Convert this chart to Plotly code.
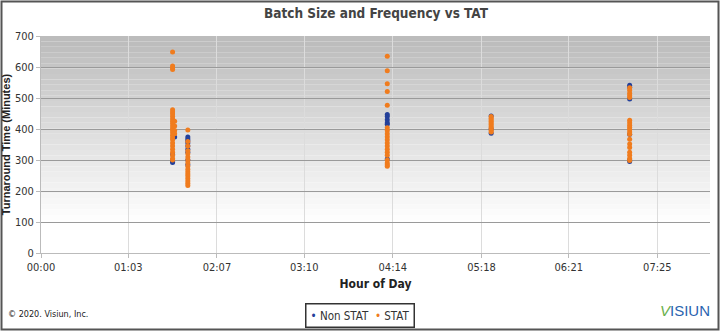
import plotly.graph_objects as go

# ---- data (minutes after midnight, TAT minutes) ----
stat_x = ([95]*25 + [96.5]*4 + [106]*17 + [250]*19 + [325]*11 + [425]*19)
stat_y = ([648, 603, 597, 592, 462, 455, 448, 440, 432, 425, 418, 410, 402, 395, 388, 380, 372, 365, 355, 345, 335, 325, 315, 305, 300]
          + [425, 410, 395, 385]
          + [397, 360, 345, 330, 320, 310, 300, 290, 280, 270, 262, 255, 248, 240, 232, 225, 218]
          + [635, 588, 546, 521, 477, 404, 395, 385, 375, 365, 355, 345, 335, 325, 315, 300, 290, 285, 280]
          + [440, 435, 430, 425, 420, 415, 410, 405, 400, 395, 390]
          + [533, 525, 515, 508, 502, 428, 420, 412, 405, 398, 390, 383, 367, 352, 340, 325, 315, 305, 298])

nonstat_x = ([96.5, 95, 95, 95, 95] + [106]*9 + [250]*6 + [325]*3 + [425]*6)
nonstat_y = ([374, 318, 300, 295, 292]
             + [374, 368, 362, 355, 345, 335, 325, 300, 285]
             + [447, 440, 430, 420, 415, 303]
             + [442, 400, 386]
             + [541, 535, 497, 383, 300, 295])

series_names = ["Non STAT", "STAT"]
series_colors = ["#24409a", "#f07c1e"]

x_tickvals = [0, 63, 127, 190, 254, 318, 381, 445]
x_ticktext = ["00:00", "01:03", "02:07", "03:10", "04:14", "05:18", "06:21", "07:25"]
y_tickvals = [0, 100, 200, 300, 400, 500, 600, 700]

W, H = 720, 331
ML, MR, MT, MB = 41, 10, 36, 78
pw, ph = W - ML - MR, H - MT - MB

FONT = "DejaVu Sans Condensed, Liberation Sans Narrow, Arial Narrow, Liberation Sans, Arial"

fig = go.Figure()
fig.add_trace(go.Scatter(x=nonstat_x, y=nonstat_y, mode="markers", name=series_names[0],
                         marker=dict(color=series_colors[0], size=5)))
fig.add_trace(go.Scatter(x=stat_x, y=stat_y, mode="markers", name=series_names[1],
                         marker=dict(color=series_colors[1], size=5)))

shapes = []
# gradient background in plot area
N = 40
for i in range(N):
    t = i / N
    f = max(0.0, 1 - t / 0.85)
    c = int(255 - (255 - 188) * f)
    shapes.append(dict(type="rect", xref="paper", yref="paper",
                       x0=0, x1=1, y0=1 - (i + 1) / N, y1=1 - i / N,
                       fillcolor=f"rgb({c},{c},{c})", line=dict(width=0), layer="below"))
# outer border
shapes.append(dict(type="rect", xref="paper", yref="paper",
                   x0=(-ML + 1.5) / pw, x1=1 + (MR - 1.5) / pw,
                   y0=(-MB + 1.5) / ph, y1=1 + (MT - 1.5) / ph,
                   line=dict(color="#555555", width=2), fillcolor="rgba(0,0,0,0)"))

legend_text = "  ".join(
    f"<span style='color:{c}'>•</span> {n}" for n, c in zip(series_names, series_colors))

fig.update_layout(
    width=W, height=H,
    margin=dict(l=ML, r=MR, t=MT, b=MB, autoexpand=False),
    paper_bgcolor="white", plot_bgcolor="rgba(0,0,0,0)",
    font=dict(family=FONT, size=11, color="#333333"),
    title=dict(text="<b>Batch Size and Frequency vs TAT</b>", x=(376 - ML) / pw, xanchor="center",
               xref="paper", y=1 - 13 / H, yanchor="middle",
               font=dict(family=FONT, size=13.5, color="#444444")),
    shapes=shapes,
    showlegend=False,
    annotations=[
        dict(text=legend_text, xref="paper", yref="paper",
             x=(360 - ML) / pw, y=-(315.5 - MT - ph) / ph, xanchor="center", yanchor="middle",
             showarrow=False, bordercolor="#333333", borderwidth=1.5, borderpad=4,
             bgcolor="white", font=dict(family=FONT, size=11.5, color="#333333")),
        dict(text="© 2020. Visiun, Inc.", xref="paper", yref="paper",
             x=(-ML + 6) / pw, y=-(314 - MT - ph) / ph, xanchor="left", yanchor="middle",
             showarrow=False, font=dict(family=FONT, size=9, color="#222222")),
        dict(text="<span style='color:#6ab04c'><i>V</i></span>ISIUN", xref="paper", yref="paper",
             x=1 + (MR - 8) / pw, y=-(310 - MT - ph) / ph, xanchor="right", yanchor="middle",
             showarrow=False, font=dict(family="Liberation Sans, Arial", size=15, color="#2a64b0")),
    ],
)
fig.update_xaxes(range=[0, 483], tickvals=x_tickvals, ticktext=x_ticktext,
                 showgrid=True, gridcolor="#dcdcdc", gridwidth=1, automargin=False,
                 zeroline=False, showline=True, linecolor="#bbbbbb",
                 ticks="outside", ticklen=4, tickcolor="#bbbbbb",
                 tickfont=dict(family=FONT, size=11, color="#333333"),
                 title=dict(text="<b>Hour of Day</b>", standoff=6,
                            font=dict(family=FONT, size=12, color="#222222")))
fig.update_yaxes(range=[0, 700], tickvals=y_tickvals,
                 showgrid=True, gridcolor="#9a9a9a", gridwidth=1, automargin=False,
                 zeroline=False, showline=True, linecolor="#bbbbbb",
                 ticks="outside", ticklen=4, tickcolor="#bbbbbb",
                 tickfont=dict(family=FONT, size=11, color="#333333"),
                 title=dict(text="<b>Turnaround Time (Minutes)</b>", standoff=4,
                            font=dict(family="Liberation Sans, Arial", size=11, color="#222222")))

fig.write_html("out.html", config={"displayModeBar": False},
               post_script="document.body.style.margin='0';document.body.style.overflow='hidden';")
